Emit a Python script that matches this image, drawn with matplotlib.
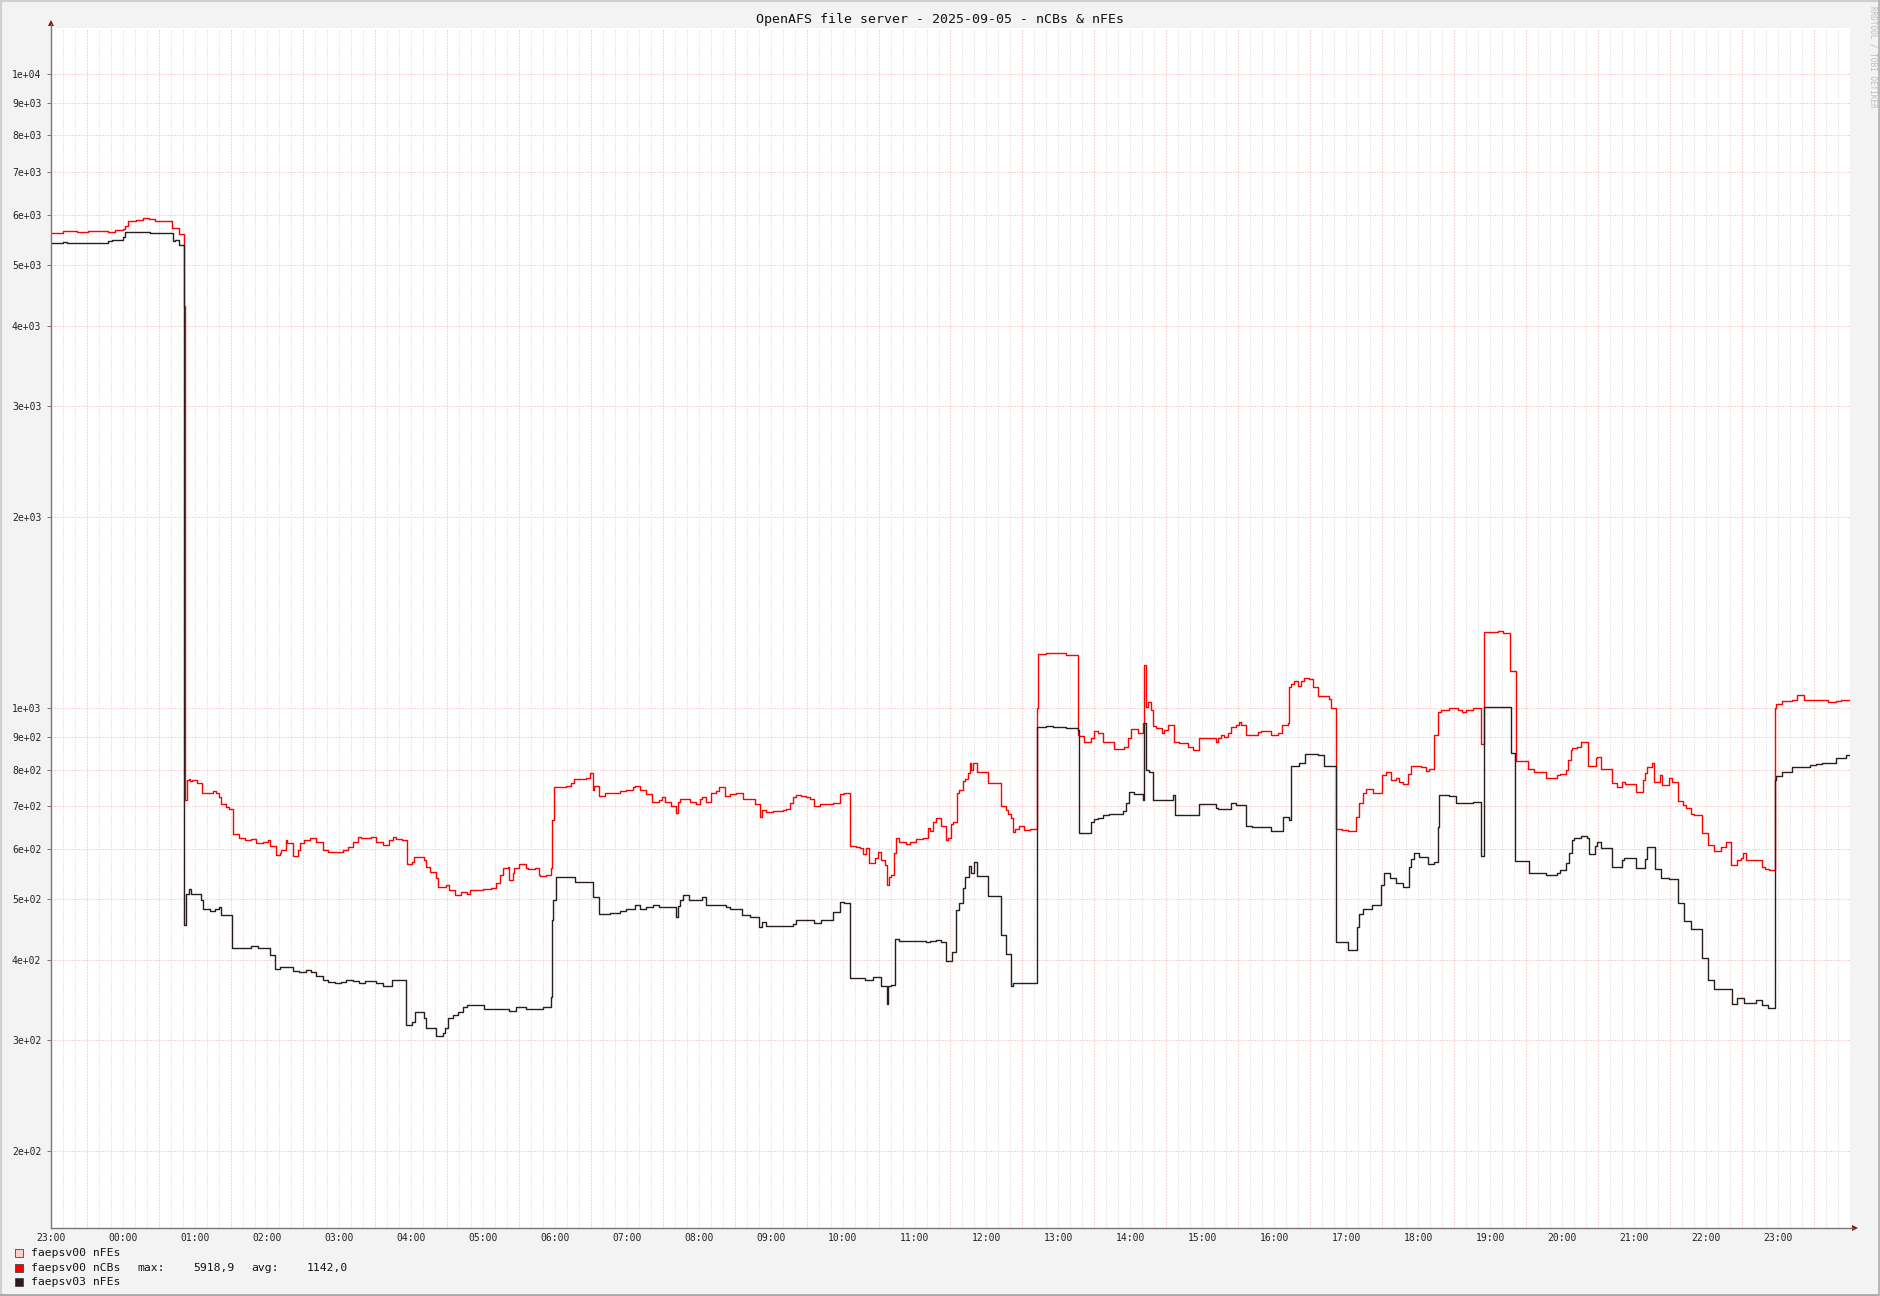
import matplotlib
matplotlib.use("Agg")
import matplotlib.pyplot as plt
import matplotlib.patches as patches
from matplotlib.lines import Line2D
from matplotlib.ticker import NullLocator
import numpy as np


W, H = 1881, 1296
MONO = "DejaVu Sans Mono"

title = "OpenAFS file server - 2025-09-05 - nCBs & nFEs"
hour_labels = ["23:00", "00:00", "01:00", "02:00", "03:00", "04:00", "05:00",
               "06:00", "07:00", "08:00", "09:00", "10:00", "11:00", "12:00",
               "13:00", "14:00", "15:00", "16:00", "17:00", "18:00", "19:00",
               "20:00", "21:00", "22:00", "23:00"]
ytick_vals = [200, 300, 400, 500, 600, 700, 800, 900, 1000,
              2000, 3000, 4000, 5000, 6000, 7000, 8000, 9000, 10000]
ytick_labels = ["2e+02", "3e+02", "4e+02", "5e+02", "6e+02", "7e+02", "8e+02",
                "9e+02", "1e+03", "2e+03", "3e+03", "4e+03", "5e+03", "6e+03",
                "7e+03", "8e+03", "9e+03", "1e+04"]
legend_names = ["faepsv00 nFEs", "faepsv00 nCBs", "faepsv03 nFEs"]
legend_colors = ["#ffcccc", "#ff0000", "#2b1d1d"]
ncbs_max = "5918,9"
ncbs_avg = "1142,0"

# minutes after 23:00 (previous day), value held until the next entry
ncbs_min = [0, 10.3, 21.5, 24.9, 31, 47.8, 53, 59.7, 62, 64, 70.9, 76.4, 82, 86.6,
            100.6, 106.9, 110.8, 112, 113.3, 115, 116, 117.8, 121.7, 126, 135,
            137.2, 140, 141.7, 146, 148.3, 151.7, 156.7, 161.7, 167, 171, 176.7,
            180.8, 182.2, 187.2, 190.6, 192, 195.6, 196.7, 201.7, 205.8, 207.8,
            210.6, 215.6, 221, 226.7, 230.8, 243.3, 247.5, 251.7, 255.8, 258.6,
            267, 271, 277.2, 282.2, 285, 287.8, 292.8, 296.7, 301, 303, 311.4,
            312.8, 316, 320.6, 322.5, 329.4, 332.2, 337.2, 342, 346.7, 349, 360,
            367, 370.8, 374.6, 376.7, 381, 382.2, 385, 386.4, 390.6, 396.4,
            397.7, 403.3, 406.9, 408, 413, 417.2, 418, 419.1, 429.7, 433.9,
            435.8, 438, 442.2, 445.8, 449.7, 451.9, 452.5, 456.9, 461.6, 474.1,
            479.7, 485.2, 486.6, 491.4, 496.4, 501.4, 506.9, 509.7, 511.6, 517.2,
            521.4, 522.7, 524.7, 532.5, 537.5, 540.8, 543, 546.4, 550.5, 554.7,
            556.9, 561.6, 565.8, 571.4, 576.9, 586.6, 591.4, 593, 596.4, 601.9,
            610.2, 613, 615.8, 618.6, 621.4, 625.5, 629.7, 632.5, 636.6, 640.8,
            651.9, 657.5, 661.6, 666.4, 671.4, 674.2, 677, 679.2, 682, 686.7,
            689.5, 692.3, 695, 697, 698.6, 700.6, 702.5, 704.8, 707, 713.1,
            716.4, 720.9, 727, 731.1, 732.5, 735.3, 738.1, 742.3, 745.9, 747.8,
            750.6, 752.5, 755.3, 757.5, 760.3, 762.5, 764.5, 765.9, 767.3, 768.6,
            772, 781.1, 792.3, 796.4, 797.8, 800.6, 802, 803.4, 807.5, 811.7,
            815.9, 822, 823, 829.8, 846.4, 856.1, 857.5, 861.7, 867.2, 870,
            872.8, 877, 886.7, 895, 897.8, 900.6, 906.1, 910.9, 911.7, 913.1,
            914.5, 917.3, 918.6, 921.4, 926.4, 928.4, 931.1, 936.7, 940.9, 947.8,
            952, 957.5, 971.4, 972.8, 975.6, 978.3, 981.1, 983.9, 988.1, 990.8,
            992.2, 996.4, 1006.1, 1008.9, 1017.2, 1022.8, 1026.4, 1031.1, 1032.5,
            1033.9, 1036.7, 1039.4, 1042.2, 1045, 1049.2, 1051.9, 1056.1, 1065.8,
            1067.2, 1071.4, 1076.4, 1081.1, 1082.5, 1088.1, 1090.3, 1093.6,
            1096.4, 1101.9, 1106.1, 1109.7, 1113.1, 1117.2, 1121.4, 1124.2,
            1126.9, 1131.1, 1133.9, 1142.2, 1146.4, 1149.2, 1153.3, 1156.1,
            1158.9, 1165.8, 1172.8, 1176.9, 1179.7, 1185.3, 1192.2, 1195, 1206.1,
            1210.3, 1216.4, 1221.4, 1231.9, 1236.7, 1246.9, 1256.1, 1258, 1263.6,
            1265.2, 1267.2, 1268.6, 1272.7, 1275.5, 1281.9, 1288, 1289.4, 1292.2,
            1301.9, 1306.1, 1310.2, 1312.5, 1321.4, 1327.5, 1329.1, 1331.1,
            1335.2, 1336.6, 1341.4, 1343.6, 1349.1, 1351.9, 1356.9, 1360.8, 1363,
            1367.2, 1370, 1376.9, 1381.9, 1386.6, 1392.2, 1396.4, 1400.6, 1406.1,
            1408.9, 1410.8, 1413, 1426.9, 1429.1, 1432.5, 1437.5, 1438.6, 1443.6,
            1451.9, 1456.1, 1461.6, 1481.9, 1488, 1492.2]
ncbs_val = [5620, 5650, 5630, 5640, 5660, 5640, 5670, 5690, 5760, 5870, 5890, 5919,
            5900, 5870, 5720, 5600, 4300, 716, 770, 774, 768, 770, 761, 736, 740,
            735, 725, 705, 699, 693, 634, 623, 619, 622, 613, 615, 619, 606, 586,
            590, 597, 619, 612, 584, 597, 613, 619, 623, 615, 597, 593, 598, 604,
            615, 627, 623, 627, 615, 608, 619, 627, 621, 619, 567, 572, 583, 576,
            562, 552, 539, 523, 526, 516, 508, 513, 509, 516, 518, 520, 529, 545,
            559, 562, 536, 549, 559, 567, 559, 557, 559, 545, 543, 545, 559, 666,
            751, 754, 761, 773, 774, 773, 777, 789, 743, 753, 727, 736, 739, 742,
            751, 754, 742, 732, 712, 716, 723, 712, 701, 684, 712, 720, 712, 707,
            718, 725, 712, 735, 740, 751, 726, 732, 734, 720, 706, 674, 692, 685,
            688, 691, 693, 709, 725, 730, 726, 723, 718, 702, 706, 709, 732, 734,
            606, 604, 601, 588, 601, 569, 580, 592, 576, 566, 526, 542, 545, 590,
            623, 614, 610, 614, 622, 625, 646, 639, 662, 672, 651, 619, 623, 656,
            662, 734, 742, 768, 772, 789, 818, 798, 820, 792, 761, 700, 692, 682,
            671, 638, 644, 651, 642, 644, 1000, 1217, 1220, 1215, 907, 903, 883,
            896, 921, 912, 883, 863, 869, 896, 926, 912, 946, 1169, 1005, 1023,
            993, 937, 929, 912, 923, 940, 885, 880, 869, 859, 896, 885, 896, 907,
            901, 912, 934, 940, 952, 940, 907, 918, 920, 907, 912, 940, 946, 1081,
            1091, 1104, 1083, 1104, 1114, 1110, 1081, 1045, 1032, 999, 644, 642,
            639, 641, 674, 709, 734, 745, 734, 735, 784, 794, 770, 777, 765, 759,
            787, 811, 808, 796, 803, 907, 987, 995, 1002, 993, 987, 995, 1002, 877,
            1320, 1322, 1312, 1145, 826, 803, 792, 775, 784, 787, 800, 828, 859,
            864, 869, 885, 810, 833, 838, 803, 761, 751, 765, 759, 738, 770, 789,
            808, 818, 765, 784, 756, 775, 765, 714, 703, 695, 681, 678, 636, 608,
            595, 604, 615, 565, 577, 581, 591, 576, 562, 557, 555, 1000, 1015,
            1026, 1030, 1048, 1030, 1021, 1026, 1030]

nfes03_min = [0, 10.3, 13.1, 47.8, 50.6, 53.1, 59.7, 61.5, 82.5, 101.9, 103.1, 106.7,
              110.8, 112.8, 115, 117, 125.3, 126.7, 132.2, 136.4, 140, 141.9, 151.1,
              167, 172.5, 178.9, 182.2, 186.4, 190.6, 201.7, 206.7, 212.8, 216.9,
              221.1, 226.7, 230.8, 236.4, 241.9, 246.1, 251.7, 257.2, 261.4, 271.1,
              276.7, 284.4, 296.1, 301.1, 303.3, 311.4, 312.8, 321.1, 326.7, 328.9,
              330.8, 335.6, 339.2, 343.9, 346.7, 361.4, 382.2, 387.8, 396.4, 410.2,
              417.2, 417.7, 418.6, 420.8, 431.9, 436.6, 450.5, 451.9, 456.9, 465.8,
              474.1, 479.7, 486.6, 491.4, 496.4, 501.9, 506.9, 515.8, 521.4, 522.7,
              524.1, 526.9, 531.9, 538, 543, 546.4, 563, 565.8, 576.4, 582.5, 590.2,
              592.5, 596.4, 618.6, 621.4, 636.6, 642.2, 651.9, 657.5, 661.6, 665.8,
              678.4, 685.3, 692.3, 697, 697.8, 700.6, 703.4, 707, 720, 729.8, 732.5,
              738.1, 742.3, 745.9, 751.4, 754.8, 757.5, 760.3, 762.5, 765.3, 767.3,
              770, 772, 781.1, 792.3, 796.4, 800.6, 802, 822, 829.8, 835.3, 846.4,
              856.1, 857, 867.2, 870, 872.8, 877, 882.5, 893.6, 896.4, 899.2, 903.4,
              910.3, 911.7, 913.1, 915.8, 918.6, 935.3, 937.5, 957.5, 971.4, 972.8,
              983.9, 988.1, 996.4, 1001.4, 1017.2, 1026.9, 1032.5, 1033.9, 1040.8,
              1045.8, 1056.1, 1061.7, 1071.4, 1081.1, 1088.6, 1090.8, 1093.6,
              1101.4, 1108.9, 1111.7, 1116.4, 1121.4, 1126.9, 1131.9, 1133.9,
              1136.7, 1140.8, 1147.8, 1153.3, 1156.1, 1157.5, 1165.8, 1171.4,
              1185.3, 1192.2, 1195, 1217.2, 1220.8, 1232.5, 1246.4, 1256.1, 1258,
              1263.6, 1265.8, 1268, 1270, 1275.5, 1281.1, 1282.5, 1287.5, 1289.4,
              1292.2, 1301.4, 1309.7, 1311.7, 1321.9, 1329.1, 1331.1, 1337.5,
              1342.2, 1349.1, 1356.9, 1361.6, 1367.2, 1376.9, 1381.9, 1386.6,
              1401.4, 1406.1, 1411.6, 1421.4, 1426.9, 1431.9, 1437.5, 1438.6,
              1443.6, 1451.9, 1466.4, 1471.4, 1476.9, 1488, 1496.4]
nfes03_val = [5422, 5440, 5422, 5450, 5480, 5470, 5530, 5640, 5620, 5460, 5470, 5380,
              455, 510, 518, 509, 499, 482, 479, 482, 485, 471, 419, 421, 418, 419,
              408, 388, 391, 385, 384, 386, 384, 378, 372, 370, 368, 370, 372, 371,
              368, 371, 368, 364, 372, 317, 320, 332, 324, 313, 304, 307, 313, 324,
              328, 332, 338, 340, 335, 333, 338, 335, 338, 350, 463, 498, 541, 542,
              531, 532, 503, 473, 476, 479, 483, 490, 483, 486, 489, 485, 486, 469,
              487, 498, 508, 499, 498, 503, 489, 486, 483, 472, 469, 452, 460, 454,
              457, 464, 459, 464, 477, 494, 493, 375, 373, 377, 364, 342, 364, 366,
              433, 429, 430, 427, 430, 431, 427, 399, 413, 480, 492, 520, 542, 564,
              549, 572, 543, 505, 439, 410, 364, 368, 935, 938, 935, 932, 923, 636,
              662, 668, 672, 678, 682, 688, 709, 738, 731, 716, 946, 798, 794, 716,
              729, 678, 707, 697, 694, 709, 704, 652, 649, 640, 674, 666, 811, 818,
              848, 843, 811, 428, 415, 452, 474, 483, 489, 526, 550, 539, 529, 523,
              562, 579, 590, 583, 567, 572, 650, 729, 726, 709, 712, 585, 1005, 850,
              575, 549, 545, 549, 555, 569, 590, 619, 625, 629, 625, 588, 606, 615,
              601, 562, 576, 581, 559, 579, 604, 557, 539, 537, 492, 462, 449, 404,
              373, 361, 342, 349, 343, 347, 340, 337, 770, 781, 794, 808, 813, 816,
              818, 833, 843]

END_MIN = 1500


def fx(x):
    return x / W


def fy(y):
    return 1 - y / H


def step_xy(mins, vals):
    # hours since 23:00, repeat last value to the right edge
    t = np.append(np.asarray(mins, float), END_MIN) / 60.0
    v = np.append(np.asarray(vals, float), vals[-1])
    return t, v


def main():
    fig = plt.figure(figsize=(W / 100, H / 100), dpi=100, facecolor="#f3f3f3")
    ax = fig.add_axes([fx(51), fy(1228), fx(1799), 1200 / H], facecolor="white")

    ax.set_yscale("log")
    ax.set_xlim(0, END_MIN / 60.0)
    ax.set_ylim(151.4, 11820)
    for s in ax.spines.values():
        s.set_visible(False)

    # grid
    dot = (0, (1, 2))
    for m in range(0, END_MIN + 1, 10):
        if m % 60 == 30:
            ax.axvline(m / 60.0, color="#f2aaaa", lw=0.72, ls=dot, zorder=1)
        else:
            ax.axvline(m / 60.0, color="#d4d4d4", lw=0.72, ls=dot, zorder=1)
    for yv in ytick_vals:
        ax.axhline(yv, color="#f2aaaa", lw=0.72, ls=dot, zorder=1)

    ax.set_yticks(ytick_vals, labels=ytick_labels)
    ax.yaxis.set_minor_locator(NullLocator())
    ax.set_xticks(range(len(hour_labels)), labels=hour_labels)
    ax.xaxis.set_minor_locator(NullLocator())
    ax.tick_params(axis="y", length=3, width=0.72, color="#777777", pad=4,
                   labelsize=7, labelcolor="#222222")
    ax.tick_params(axis="x", length=0, pad=3.5, labelsize=7, labelcolor="#222222")
    for lab in ax.get_xticklabels() + ax.get_yticklabels():
        lab.set_family(MONO)

    t, v = step_xy(ncbs_min, ncbs_val)
    ax.plot(t, v, drawstyle="steps-post", color=legend_colors[1], lw=1.0, zorder=3)
    t, v = step_xy(nfes03_min, nfes03_val)
    ax.plot(t, v, drawstyle="steps-post", color=legend_colors[2], lw=1.0, zorder=4)

    # axis lines with arrow heads
    fig.add_artist(Line2D([fx(51), fx(51)], [fy(1228), fy(24)], color="#777777", lw=1.0))
    fig.add_artist(Line2D([fx(51), fx(1853)], [fy(1228), fy(1228)], color="#777777", lw=1.0))
    fig.add_artist(patches.Polygon([(fx(48), fy(26)), (fx(54), fy(26)), (fx(51), fy(20))],
                                   closed=True, color="#8b1010", lw=0))
    fig.add_artist(patches.Polygon([(fx(1852), fy(1225)), (fx(1852), fy(1231)), (fx(1858), fy(1228))],
                                   closed=True, color="#8b1010", lw=0))

    fig.text(0.5, fy(19), title, ha="center", va="center", family=MONO,
             fontsize=9.5, color="#111111")
    fig.text(fx(1873), fy(6), "RRDTOOL / TOBI OETIKER", rotation=270, ha="center",
             va="top", family=MONO, fontsize=5.5, color="#bdbdbd")

    # legend
    rows = [1253, 1268, 1282]
    for name, col, y in zip(legend_names, legend_colors, rows):
        fig.add_artist(patches.Rectangle((fx(15), fy(y + 4)), 8 / W, 8 / H,
                                         facecolor=col, edgecolor="#444444", lw=0.6))
        fig.text(fx(31), fy(y), name, va="center", family=MONO, fontsize=8.2, color="#111111")
    y = rows[1]
    for x, s in [(137, "max:"), (193, ncbs_max), (251, "avg:"), (307, ncbs_avg)]:
        fig.text(fx(x), fy(y), s, va="center", family=MONO, fontsize=8.2, color="#111111")

    # frame around the image
    fig.add_artist(Line2D([0, 1], [fy(1), fy(1)], color="#cfcfcf", lw=1.5))
    fig.add_artist(Line2D([fx(1), fx(1)], [0, 1], color="#cfcfcf", lw=1.5))
    fig.add_artist(Line2D([0, 1], [fy(H - 1.5), fy(H - 1.5)], color="#a9a9a9", lw=2))
    fig.add_artist(Line2D([fx(W - 1.5), fx(W - 1.5)], [0, 1], color="#b5b5b5", lw=2))

    fig.savefig("out.png", dpi=100, facecolor=fig.get_facecolor())


if __name__ == "__main__":
    main()
